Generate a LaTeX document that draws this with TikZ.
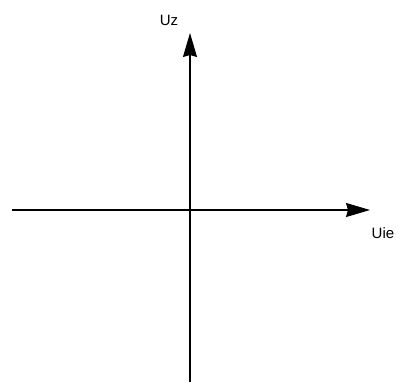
\documentclass[tikz,border=0pt]{standalone}
\usepackage{fontspec}
\setmainfont{Liberation Sans}
\usetikzlibrary{arrows.meta}
\begin{document}
\begin{tikzpicture}[x=1pt,y=-1pt,
  axis/.style={line width=1.3pt,-{Stealth[length=24pt,width=14pt,inset=2pt]}},
  lbl/.style={font=\fontsize{15}{17}\selectfont,inner sep=0pt,text=black}]
\useasboundingbox (0,0) rectangle (400,388);
\coordinate (ybot) at (190,382);
\coordinate (ytop) at (190,33);
\coordinate (xl) at (12,210);
\coordinate (xr) at (370,210);
\draw[axis] (ybot) -- (ytop);
\draw[axis] (xl) -- (xr);
\node[lbl] (uz) at (169,20) {Uz};
\node[lbl] (uie) at (383,233) {Uie};
\end{tikzpicture}
\end{document}
